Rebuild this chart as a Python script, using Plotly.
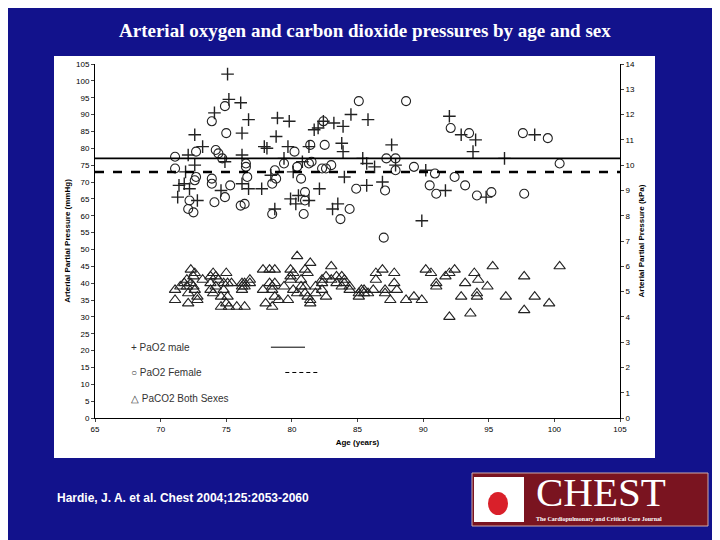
import plotly.graph_objects as go

male_age = [75.1,75.2,76.1,74.1,76.7,78.9,79.8,72.6,76.2,73.2,77.9,78.1,78.8,79.7,72.1,76.2,81.3,81.7,82.0,82.4,83.2,83.9,84.5,85.8,83.8,83.9,72.6,74.9,79.4,80.1,80.8,85.4,85.7,86.3,87.9,87.6,71.4,71.8,72.2,71.3,72.8,74.6,76.2,76.7,77.7,78.4,78.7,79.9,80.3,80.5,81.3,82.1,83.1,83.5,84.0,85.7,86.9,89.9,90.2,91.7,92.0,92.9,93.8,94.0,94.8,96.2,98.5,71.9]
male_val = [102,94.5,93.5,90.5,88.5,89,88,84,84.5,80.5,80.5,80,83.5,80.5,78,78,80.5,85.5,86,88,87.5,86.5,90,88.5,81.5,79,75,76,77,73,76,77,75.5,74.5,75,81,69,69.5,68,65.5,64.5,67.5,69.5,68,68,72,62,65,63.5,66,64.5,68,62,63.5,71.5,69,70,58.5,73.5,67.5,89.5,84,79,82.5,65.5,77,84,73]

fem_age = [71.1,71.1,72.1,72.2,72.5,72.6,72.7,72.7,73.9,73.9,73.9,74.1,74.2,74.4,74.7,74.9,75.0,74.9,75.3,76.1,76.4,76.5,76.6,76.5,78.5,78.5,78.7,78.8,79.4,80.2,80.4,80.7,81.0,80.9,81.0,81.4,81.5,81.3,82.4,82.5,82.3,82.6,83.0,83.7,84.4,84.9,85.1,87.0,87.1,87.2,87.9,87.9,88.7,89.3,90.5,90.9,91.0,92.1,92.4,93.2,93.5,94.1,95.2,97.6,97.7,99.5,100.4]
fem_val = [77.5,74,62,64.5,61,70.5,71.5,79,69.5,71,88,64,79.5,78.5,77,92.5,84.5,65.5,69,63,63.5,75.5,71.5,74.5,69.5,60.5,73.5,71,75.5,79,74.5,71,67,60.5,64.5,81,76,75.5,88,81,74,74,75,59,62,68,94,53.5,67.5,77,77,73.5,94,74.5,69,72.5,66.5,86,71.5,69,84.5,66,67,84.5,66.5,83,75.5]

co2_age = [71.1,71.1,71.5,71.8,72.0,72.0,72.1,72.1,72.3,72.3,72.5,72.5,72.6,72.6,72.8,72.8,73.2,73.8,73.8,73.8,74.0,74.0,74.2,74.2,74.4,74.6,74.6,74.8,74.8,75.0,75.0,75.1,75.1,75.2,75.4,75.8,76.2,76.2,76.2,76.4,76.4,76.4,76.8,76.8,77.8,77.8,78.0,78.3,78.3,78.5,78.5,78.5,78.7,78.7,78.7,79.0,79.4,79.7,79.9,79.9,79.9,80.1,80.1,80.4,80.4,80.7,80.7,81.0,81.0,81.0,81.2,81.2,81.4,81.4,81.4,81.8,81.8,82.3,82.3,82.3,82.6,82.6,83.0,83.0,83.4,83.4,83.8,83.8,84.0,84.0,84.4,84.4,85.1,85.1,85.3,85.5,85.5,85.8,86.2,86.4,86.4,86.9,87.1,87.1,87.5,87.8,87.8,88.0,88.7,89.3,89.9,90.2,90.6,91.0,91.0,91.7,92.0,92.0,92.4,93.2,92.9,93.6,93.9,94.1,94.1,94.2,94.9,95.3,96.3,97.7,97.7,98.5,99.6,100.4]
co2_val = [35,38,39,40,41,39,34,37,44,40,42,39,38,43,35,36,41,42,40,38,43,37,39,42,41,33,36,40,38,34,43,36,40,33,40,33,40,38,39,33,39,40,40,41,44,38,34,44,40,38,39,33,44,40,36,35,39,35,44,42,41,43,38,48,37,41,39,44,37,39,43,36,46,35,34,37,39,41,38,40,36,42,45,41,42,40,42,39,41,40,38,39,36,37,38,37,38,37,38,43,41,44,38,37,35,43,40,38,35,36,35,44,43,40,39,42,43,30,44,40,36,31,43,37,36,41,39,45,36,42,32,36,34,45]

male_mean = 77
fem_mean = 73

fig = go.Figure()
fig.add_trace(go.Scatter(x=male_age, y=male_val, mode="markers", marker=dict(symbol="cross-thin-open", size=9, color="#222", line=dict(color="#222", width=1.4))))
fig.add_trace(go.Scatter(x=fem_age, y=fem_val, mode="markers", marker=dict(symbol="circle-open", size=9, color="#222", line=dict(color="#222", width=1.1))))
fig.add_trace(go.Scatter(x=co2_age, y=co2_val, mode="markers", marker=dict(symbol="triangle-up-open", size=10, color="#222", line=dict(color="#222", width=1.1))))
fig.add_trace(go.Scatter(x=[65,105], y=[male_mean]*2, mode="lines", line=dict(color="black", width=1.6)))
fig.add_trace(go.Scatter(x=[65,105], y=[fem_mean]*2, mode="lines", line=dict(color="black", width=2.5, dash="dash")))
fig.add_trace(go.Scatter(x=[65], y=[0], yaxis="y2", mode="markers", marker=dict(opacity=0), hoverinfo="skip"))

ax = dict(showgrid=False, zeroline=False, showline=True, linecolor="black", ticks="outside", ticklen=3,
          tickfont=dict(family="Liberation Sans", size=8, color="black"), mirror=False)
def px(x): return (x-95)/525
def py(y): return (418-y)/354
fig.update_layout(
    width=720, height=540, showlegend=False,
    paper_bgcolor="#12128c", plot_bgcolor="white",
    margin=dict(l=87, r=108, t=56, b=130),
    xaxis=dict(ax, range=[65,105], dtick=5, title=dict(text="<b>Age (years)</b>", font=dict(family="Liberation Sans", size=8, color="black"), standoff=6)),
    yaxis=dict(ax, range=[0,105], dtick=5, title=dict(text="<b>Arterial Partial Pressure (mmHg)</b>", font=dict(family="Liberation Sans", size=8, color="black"), standoff=4)),
    yaxis2=dict(ax, range=[0,14], dtick=1, overlaying="y", side="right", title=dict(text="<b>Arterial Partial Pressure (kPa)</b>", font=dict(family="Liberation Sans", size=8, color="black"), standoff=4)),
    shapes=[
        dict(type="rect", xref="paper", yref="paper", x0=px(54), x1=px(655), y0=py(458), y1=py(56), fillcolor="white", line=dict(width=0), layer="below"),
        dict(type="line", xref="x", yref="y", x0=78.4, x1=81, y0=21, y1=21, line=dict(color="black", width=1)),
        dict(type="line", xref="x", yref="y", x0=79.5, x1=82, y0=13.5, y1=13.5, line=dict(color="black", width=1, dash="4px,3px")),
        dict(type="rect", xref="paper", yref="paper", x0=px(472), x1=px(708), y0=py(526), y1=py(473), fillcolor="#7a1420", line=dict(color="#caa", width=1)),
        dict(type="rect", xref="paper", yref="paper", x0=px(474), x1=px(524), y0=py(522), y1=py(477), fillcolor="white", line=dict(width=0)),
        dict(type="circle", xref="paper", yref="paper", x0=px(488), x1=px(508), y0=py(515), y1=py(492), fillcolor="#d9202a", line=dict(width=0)),
    ],
    annotations=[
        dict(text="<b>Arterial oxygen and carbon dioxide pressures by age and sex</b>", xref="paper", yref="paper", x=px(365), y=py(30), yanchor="middle", showarrow=False, font=dict(family="Liberation Serif", size=19, color="white")),
        dict(text="<b>Hardie, J. A. et al. Chest 2004;125:2053-2060</b>", xref="paper", yref="paper", x=px(55), y=py(498), xanchor="left", yanchor="middle", showarrow=False, font=dict(family="Liberation Sans", size=12, color="white")),
        dict(text="CHEST", xref="paper", yref="paper", x=px(534), y=py(492), xanchor="left", yanchor="middle", showarrow=False, font=dict(family="Liberation Serif", size=41, color="white")),
        dict(text="<b>The Cardiopulmonary and Critical Care Journal</b>", xref="paper", yref="paper", x=px(534), y=py(519), xanchor="left", yanchor="middle", showarrow=False, font=dict(family="Liberation Serif", size=6, color="white")),
        dict(text="+ PaO2 male", x=67.6, y=21, xanchor="left", yanchor="middle", showarrow=False, font=dict(family="Liberation Sans", size=10, color="#333")),
        dict(text="○ PaO2 Female", x=67.6, y=13.5, xanchor="left", yanchor="middle", showarrow=False, font=dict(family="Liberation Sans", size=10, color="#333")),
        dict(text="△ PaCO2 Both Sexes", x=67.6, y=5.8, xanchor="left", yanchor="middle", showarrow=False, font=dict(family="Liberation Sans", size=10, color="#333")),
    ],
)
fig.write_html("out.html")
